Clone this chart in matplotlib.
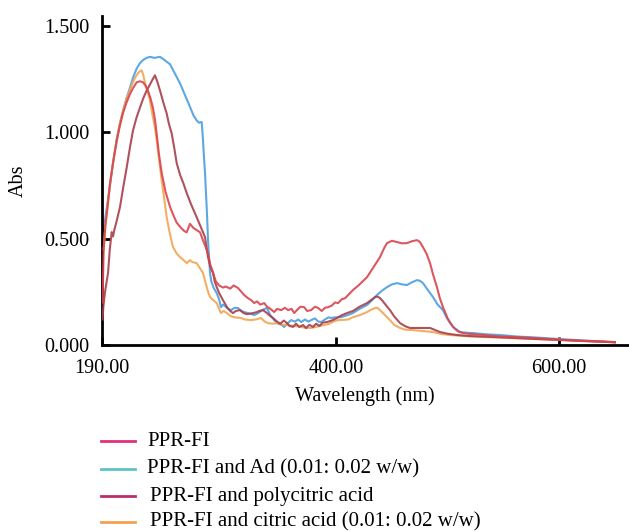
import matplotlib
matplotlib.use("Agg")
import matplotlib.pyplot as plt
from matplotlib.lines import Line2D
from matplotlib.ticker import FormatStrFormatter

plt.rcParams['font.family'] = ['Liberation Serif', 'DejaVu Serif']

# ---------------- data ----------------
ppr_wl = [190.5, 191.5, 193, 195, 197.2, 200, 203.2, 206, 208.8, 212, 215.1, 218, 221.1, 224, 226.8, 229,
          231.3, 233.5, 235.7, 237.5, 239.1, 241, 243.5, 247, 251, 254, 257, 261, 264, 266, 268.9, 272, 275,
          277.9, 280, 283, 285.1, 287, 289.6, 292, 295, 298.5, 301, 305, 308, 312, 315, 317.5, 321, 324,
          326.5, 329, 332, 335.5, 338, 341, 344.4, 347, 350.7, 354, 357, 360, 362.4, 365, 368, 371.3, 374,
          377.6, 381, 383.9, 387, 390, 392.9, 396, 399, 401.8, 405, 408, 410.8, 415, 420, 427.7, 434, 439.3,
          443, 445.6, 450, 454.6, 459, 463.5, 468, 472.5, 475, 477.9, 481, 484.2, 487, 490.4, 493, 495.8,
          500, 504.8, 509, 513.8, 520, 531.7, 547, 562, 580, 600, 620, 640, 650]
ppr_abs = [0.20, 0.45, 0.56, 0.65, 0.76, 0.86, 0.96, 1.03, 1.09, 1.14, 1.18, 1.21, 1.235, 1.24, 1.235, 1.22,
           1.195, 1.16, 1.115, 1.06, 0.99, 0.90, 0.81, 0.72, 0.65, 0.61, 0.575, 0.55, 0.535, 0.53, 0.57, 0.55,
           0.54, 0.53, 0.50, 0.46, 0.43, 0.38, 0.34, 0.30, 0.28, 0.27, 0.275, 0.265, 0.28, 0.268, 0.25, 0.235,
           0.22, 0.21, 0.197, 0.205, 0.19, 0.197, 0.18, 0.17, 0.155, 0.17, 0.164, 0.175, 0.164, 0.17, 0.150,
           0.165, 0.18, 0.178, 0.16, 0.164, 0.18, 0.174, 0.16, 0.175, 0.178, 0.185, 0.20, 0.197, 0.215, 0.22,
           0.235, 0.258, 0.28, 0.319, 0.37, 0.413, 0.455, 0.479, 0.49, 0.484, 0.478, 0.479, 0.488, 0.493,
           0.485, 0.460, 0.43, 0.385, 0.33, 0.272, 0.22, 0.178, 0.125, 0.085, 0.065, 0.056, 0.052, 0.047,
           0.040, 0.037, 0.032, 0.025, 0.020, 0.016, 0.013]

ad_wl = [190.5, 191.5, 193, 195, 197.2, 200, 203.2, 206, 208.8, 212, 215.1, 218, 221.1, 224, 226.8, 230, 233,
         237, 242, 246, 251, 255, 260, 264, 268.9, 272, 274.9, 277, 279.4, 280.6, 281.5, 282.4, 283.2, 283.9,
         284.5, 285.1, 286, 286.9, 288, 290, 292.9, 295, 296.7, 298.5, 301, 303, 305.7, 309, 312, 315, 317.5,
         321, 324, 326.5, 330, 334, 337.9, 341, 344.4, 348, 351, 353.4, 356, 359.7, 363, 366, 368.7, 372, 375,
         377.6, 381, 384, 386.6, 390, 393, 395.5, 399, 404.5, 410, 415, 421, 427.7, 432, 436.6, 441, 445.6,
         450, 454.6, 459, 463.5, 468, 472.5, 475, 477.9, 482, 486.9, 491, 495.8, 499, 502.1, 506, 511.1, 516,
         522.7, 535, 547, 562, 580, 600, 620, 640, 650]
ad_abs = [0.40, 0.53, 0.60, 0.67, 0.75, 0.86, 0.97, 1.04, 1.10, 1.16, 1.21, 1.26, 1.30, 1.325, 1.34, 1.35,
          1.355, 1.35, 1.355, 1.34, 1.32, 1.28, 1.23, 1.18, 1.12, 1.08, 1.056, 1.045, 1.049, 0.962, 0.88, 0.808,
          0.72, 0.648, 0.57, 0.493, 0.41, 0.338, 0.30, 0.27, 0.244, 0.215, 0.178, 0.19, 0.18, 0.17, 0.164, 0.175,
          0.174, 0.16, 0.155, 0.15, 0.145, 0.141, 0.15, 0.165, 0.174, 0.14, 0.117, 0.10, 0.095, 0.085, 0.10,
          0.117, 0.11, 0.12, 0.108, 0.12, 0.11, 0.117, 0.125, 0.11, 0.108, 0.12, 0.13, 0.127, 0.13, 0.131,
          0.14, 0.150, 0.17, 0.188, 0.21, 0.235, 0.255, 0.272, 0.285, 0.291, 0.285, 0.282, 0.295, 0.305, 0.302,
          0.291, 0.26, 0.225, 0.19, 0.164, 0.13, 0.103, 0.08, 0.061, 0.058, 0.056, 0.05, 0.047, 0.04, 0.035,
          0.028, 0.022, 0.016, 0.014]

poly_wl = [190.5, 191.2, 193, 195.4, 197, 198.7, 199.9, 201, 203, 206.1, 209, 212.2, 215.1, 217.8, 221, 224.1,
           227, 230.1, 233, 235.5, 237.5, 239.5, 242, 245, 248, 250, 252.5, 255, 257, 260, 263, 266, 270, 274.9,
           279, 282.4, 284, 285.1, 287, 289.6, 291, 292.9, 295, 298.5, 302.1, 305, 307.5, 310, 313.8, 317, 320,
           325.4, 329, 331, 334.4, 338, 340, 343.4, 347, 350, 353, 355.9, 358, 361.3, 364, 367, 370.3, 373, 376,
           379.2, 382, 385, 388, 391.8, 396, 400.8, 405, 409.7, 415.1, 421, 427.7, 431, 434.9, 437, 439.3, 442,
           445, 448.3, 452, 457.3, 462, 466.2, 475.2, 484.2, 488, 493.1, 500, 508.4, 520, 540, 560, 580, 600,
           620, 640, 650]
poly_abs = [0.12, 0.18, 0.26, 0.338, 0.45, 0.531, 0.51, 0.54, 0.58, 0.648, 0.74, 0.836, 0.930, 1.009, 1.07,
            1.117, 1.16, 1.197, 1.225, 1.25, 1.268, 1.24, 1.197, 1.14, 1.089, 1.04, 0.995, 0.92, 0.855, 0.80,
            0.76, 0.714, 0.66, 0.601, 0.55, 0.507, 0.45, 0.413, 0.37, 0.338, 0.30, 0.272, 0.245, 0.211, 0.178,
            0.16, 0.150, 0.16, 0.164, 0.15, 0.145, 0.150, 0.155, 0.16, 0.164, 0.15, 0.14, 0.127, 0.11, 0.10,
            0.115, 0.103, 0.09, 0.085, 0.10, 0.085, 0.094, 0.08, 0.095, 0.085, 0.10, 0.09, 0.105, 0.108, 0.115,
            0.127, 0.14, 0.150, 0.160, 0.18, 0.197, 0.21, 0.225, 0.228, 0.221, 0.205, 0.185, 0.164, 0.135,
            0.103, 0.088, 0.080, 0.080, 0.080, 0.072, 0.061, 0.053, 0.047, 0.042, 0.038, 0.033, 0.028, 0.024,
            0.019, 0.015, 0.013]

cit_wl = [191.5, 193, 195, 197.2, 200, 203.2, 206, 208.8, 212, 215.1, 218, 221.1, 223.5, 225.6, 227, 228.6,
          231, 233, 235.7, 237.5, 239.1, 241, 243.5, 246, 248, 251, 253.7, 257, 260, 263, 266, 268.9, 271,
          274.9, 278, 280.6, 282.5, 283.9, 285.5, 286.9, 290, 292.9, 296.7, 299, 302, 305.7, 309, 314.7, 318,
          323.6, 328, 332.6, 336, 338.9, 343, 347.9, 352, 356.9, 361, 365, 368.6, 373, 377.6, 382, 386, 389.2,
          394, 397.2, 401.8, 406, 410.8, 415.1, 421, 427.7, 431, 434.9, 437, 439.3, 443, 448.3, 452, 457.3,
          462, 468.9, 477, 486.9, 494, 502.1, 515, 530, 550, 570, 600, 620, 640, 650]
cit_abs = [0.45, 0.56, 0.65, 0.76, 0.86, 0.96, 1.04, 1.10, 1.16, 1.20, 1.24, 1.27, 1.285, 1.291, 1.27, 1.23,
           1.19, 1.15, 1.07, 1.02, 0.962, 0.88, 0.775, 0.68, 0.601, 0.52, 0.46, 0.43, 0.413, 0.40, 0.385, 0.399,
           0.39, 0.385, 0.36, 0.338, 0.30, 0.272, 0.245, 0.225, 0.21, 0.197, 0.150, 0.16, 0.15, 0.135, 0.13,
           0.127, 0.12, 0.117, 0.12, 0.127, 0.11, 0.103, 0.10, 0.103, 0.095, 0.094, 0.09, 0.088, 0.085, 0.08,
           0.080, 0.085, 0.09, 0.094, 0.10, 0.110, 0.117, 0.118, 0.120, 0.131, 0.14, 0.155, 0.165, 0.174, 0.175,
           0.164, 0.145, 0.117, 0.095, 0.080, 0.072, 0.070, 0.066, 0.061, 0.052, 0.047, 0.042, 0.038, 0.034,
           0.030, 0.024, 0.019, 0.015, 0.012]

labels = ["PPR-FI", "PPR-FI and Ad (0.01: 0.02 w/w)", "PPR-FI and polycitric acid",
          "PPR-FI and citric acid (0.01: 0.02 w/w)"]
x_ticks = [190, 400, 600]
y_ticks = [0.0, 0.5, 1.0, 1.5]

# ---------------- styling ----------------
curve_colors = ["#d9454d", "#4a9fe0", "#a83f4c", "#f2a553"]
legend_colors = ["#e2307c", "#5cc3c5", "#b92d6c", "#f3a04f"]

W, H = 629, 531
fig = plt.figure(figsize=(W / 100, H / 100), dpi=100)
ax = fig.add_axes([102 / W, 1 - 345 / H, (628 - 102) / W, (345 - 16) / H])

lw = 1.5
ax.plot(ad_wl, ad_abs, color=curve_colors[1], lw=lw, alpha=0.9, zorder=2)
ax.plot(cit_wl, cit_abs, color=curve_colors[3], lw=lw, alpha=0.9, zorder=3)
ax.plot(poly_wl, poly_abs, color=curve_colors[2], lw=lw, alpha=0.9, zorder=4)
ax.plot(ppr_wl, ppr_abs, color=curve_colors[0], lw=lw, alpha=0.9, zorder=5)

ax.set_xlim(190, 190 + (628 - 102) / 1.115)
ax.set_ylim(0, 1.5 + 10 / 213)
ax.set_xticks(x_ticks)
ax.set_yticks(y_ticks)
ax.xaxis.set_major_formatter(FormatStrFormatter('%.2f'))
ax.yaxis.set_major_formatter(FormatStrFormatter('%.3f'))
for s in ['top', 'right']:
    ax.spines[s].set_visible(False)
for s in ['left', 'bottom']:
    ax.spines[s].set_linewidth(2.0)
ax.tick_params(direction='in', length=6, width=2, labelsize=14.5, pad=9)
ax.tick_params(axis='x', pad=10)

ax.set_xlabel("Wavelength (nm)", fontsize=14.5, labelpad=6)
ax.set_ylabel("Abs", fontsize=14.5, labelpad=12)

# legend drawn below the axes
row_y = [441, 469, 496, 522]
text_x = [147, 147, 150, 150]
for c, lab, ry, tx in zip(legend_colors, labels, row_y, text_x):
    fig.add_artist(Line2D([101 / W, 135 / W], [1 - ry / H, 1 - ry / H], color=c, lw=2))
    fig.text(tx / W, 1 - ry / H, lab, fontsize=15, va='center', ha='left')

fig.savefig("out.png", dpi=100)
